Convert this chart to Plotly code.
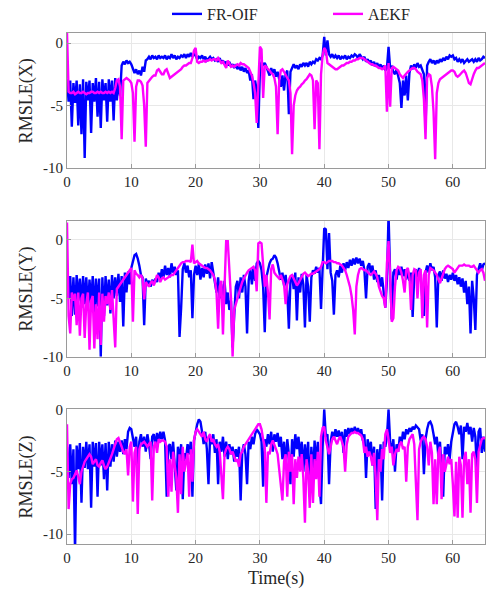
import plotly.graph_objects as go

# Sampling interval of the logged error series (seconds)
SAMPLE_STEP = 0.25

# RMSLE of the X component
fr_oif_x = [
    -2.9, -4.7, -3.0, -6.7, -3.2, -4.8, -3.0, -6.6, -3.3, -7.3, -2.9, -9.2, -3.1, -4.6, -3.0, -7.2, -3.2, -4.7, -2.8, -5.9,
    -3.1, -6.8, -2.9, -4.6, -3.2, -6.3, -2.9, -4.7, -3.0, -6.2, -2.8, -4.6, -3.0, -4.2, -1.8, -1.5, -1.7, -1.4, -1.6, -1.5,
    -1.7, -2.0, -2.4, -2.1, -2.5, -2.2, -2.6, -1.9, -2.3, -1.4, -1.3, -1.1, -1.3, -1.0, -1.2, -1.1, -1.3, -1.0, -1.2, -1.1,
    -1.2, -1.0, -1.3, -1.1, -1.2, -0.9, -1.2, -1.0, -1.3, -1.1, -1.2, -1.0, -1.1, -0.9, -1.2, -0.9, -1.1, -0.8, -1.1, -0.9,
    -1.0, -1.3, -1.1, -1.2, -1.0, -1.3, -1.1, -1.4, -1.2, -1.1, -1.3, -1.2, -1.4, -1.3, -1.5, -1.2, -1.6, -1.4, -1.7, -1.5,
    -1.8, -1.5, -1.9, -1.7, -2.0, -1.7, -2.1, -1.8, -2.2, -1.9, -2.3, -2.0, -2.4, -2.2, -3.0, -2.5, -4.5, -3.0, -3.8, -6.8,
    -2.2, -1.5, -1.8, -1.6, -1.9, -2.2, -2.6, -2.0, -2.4, -2.1, -2.7, -2.3, -2.8, -3.5, -2.6, -3.8, -2.5, -2.2, -5.7, -2.3,
    -2.0, -1.7, -2.0, -1.8, -2.1, -1.7, -1.9, -1.6, -1.8, -1.6, -1.9, -1.5, -1.7, -1.5, -1.6, -1.3, -1.4, -1.2, -1.3, -1.0,
    0.5, -1.0, 0.2, -0.9, -1.1, -0.9, -1.2, -1.0, -1.2, -1.0, -1.3, -1.1, -1.2, -1.0, -1.3, -1.1, -1.2, -1.0, -1.1, -0.9,
    -1.0, -1.2, -0.9, -1.1, -1.3, -1.1, -1.5, -1.3, -1.6, -1.4, -1.8, -1.5, -1.9, -1.6, -2.0, -1.7, -2.1, -1.8, -2.2, -2.0,
    -0.3, -2.0, -1.9, -2.3, -2.5, -2.1, -2.8, -3.2, -5.2, -3.0, -4.2, -2.6, -4.6, -2.4, -1.8, -2.1, -1.7, -2.0, -1.6, -1.9,
    -1.8, -2.1, -2.5, -6.8, -1.8, -1.5, -1.3, -1.6, -1.4, -1.7, -1.4, -1.6, -1.3, -1.5, -1.2, -1.4, -1.1, -1.3, -1.0, -1.1,
    -1.0, -1.3, -1.2, -1.5, -1.3, -1.5, -1.3, -1.6, -1.4, -1.3, -1.5, -1.4, -1.3, -1.5, -1.3, -1.5, -1.2, -1.4, -1.3, -1.1,
    -1.2,
]
aekf_x = [
    0.8, -3.9, -4.0, -4.0, -3.9, -4.1, -4.0, -3.9, -4.0, -4.0, -3.9, -4.0, -4.1, -4.0, -4.0, -3.9, -3.9, -4.0, -4.0, -3.9,
    -4.0, -3.9, -4.0, -4.0, -3.9, -4.0, -3.9, -4.0, -3.9, -4.0, -3.6, -3.0, -2.9, -3.5, -7.7, -3.0, -2.9, -2.8, -2.9, -3.0,
    -3.2, -4.0, -7.9, -3.5, -3.0, -3.0, -3.1, -3.4, -5.0, -8.3, -3.2, -3.0, -2.9, -2.7, -2.6, -2.6, -2.2, -2.1, -2.3, -2.5,
    -2.5, -2.2, -2.1, -2.4, -2.8, -2.7, -2.6, -2.5, -2.4, -2.3, -2.2, -2.1, -1.9, -1.8, -1.8, -1.7, -1.6, -1.6, -1.2, -0.6,
    -0.4, -1.5, -1.6, -1.5, -1.5, -1.4, -1.5, -1.4, -1.4, -1.3, -1.4, -1.3, -1.3, -1.4, -1.2, -1.4, -1.6, -1.5, -1.7, -2.0,
    -1.4, -1.7, -1.9, -1.8, -1.9, -1.8, -1.7, -1.8, -1.6, -1.7, -1.7, -1.8, -1.9, -2.0, -2.3, -2.6, -3.2, -4.0, -6.4, -3.0,
    -0.3, -0.5, -4.4, -1.8, -1.9, -2.1, -2.2, -2.4, -2.5, -2.8, -3.5, -7.3, -3.0, -2.2, -2.1, -2.3, -2.6, -2.8, -3.0, -4.0,
    -8.9, -5.0, -4.2, -3.8, -3.6, -3.5, -3.3, -3.2, -3.0, -2.9, -2.7, -2.5, -2.6, -3.0, -6.9, -3.0, -3.2, -8.5, -2.5, -1.0,
    -0.4, -0.6, -1.6, -1.7, -1.8, -1.9, -2.0, -2.1, -2.1, -2.0, -1.9, -1.8, -1.8, -1.7, -1.6, -1.6, -1.5, -1.5, -1.4, -1.4,
    -1.3, -1.3, -1.2, -1.2, -1.2, -1.3, -1.4, -1.5, -1.6, -1.7, -1.7, -1.8, -1.8, -1.9, -2.0, -2.0, -2.1, -2.0, -1.8, -5.5,
    -1.6, -5.1, -2.0, -1.9, -2.0, -2.1, -2.2, -2.5, -2.7, -2.8, -2.6, -2.4, -2.3, -2.2, -2.1, -2.0, -2.0, -2.1, -2.3, -2.4,
    -2.5, -3.0, -4.5, -7.7, -2.8, -2.5, -2.6, -3.5, -5.5, -9.3, -4.0, -3.2, -2.9, -2.8, -2.7, -2.6, -2.5, -2.4, -2.3, -2.2,
    -2.2, -2.3, -2.6, -2.7, -2.6, -2.4, -2.3, -2.2, -2.4, -2.8, -3.2, -3.3, -2.8, -2.5, -2.2, -2.0, -2.0, -1.9, -1.8, -1.7,
    -1.6,
]

# RMSLE of the Y component
fr_oif_y = [
    -3.0, -5.0, -3.1, -6.5, -3.2, -6.4, -3.0, -5.2, -3.3, -5.8, -3.1, -5.5, -3.2, -6.0, -3.4, -5.4, -3.1, -6.3, -3.3, -5.7,
    -3.3, -10.0, -3.2, -6.5, -3.1, -5.6, -3.4, -6.3, -3.0, -5.0, -3.2, -4.8, -2.9, -5.3, -3.1, -7.4, -2.8, -4.5, -2.7, -3.8,
    -2.4, -1.8, -1.3, -1.2, -1.6, -2.2, -3.0, -3.2, -7.3, -3.3, -3.8, -3.5, -4.0, -3.4, -3.8, -3.3, -3.6, -2.8, -3.4, -2.5,
    -3.2, -2.2, -3.0, -2.4, -3.2, -2.0, -2.8, -2.3, -3.0, -2.6, -8.3, -5.8, -2.5, -2.0, -2.8, -2.2, -3.2, -2.6, -6.7, -3.0,
    -2.2, -3.0, -2.0, -3.4, -2.4, -3.2, -2.1, -2.9, -2.0, -3.3, -1.9, -2.8, -3.5, -4.5, -3.2, -5.0, -3.8, -5.2, -3.5, -5.5,
    -4.5, -6.0, -5.2, -9.2, -6.5, -4.0, -3.5, -5.0, -3.2, -4.5, -3.0, -4.0, -8.0, -3.5, -2.5, -3.8, -2.3, -3.5, -2.0, -1.8,
    -2.0, -2.6, -4.0, -7.9, -3.2, -2.5, -2.0, -1.7, -1.6, -1.3, -1.5, -2.0, -2.6, -3.4, -2.8, -3.9, -3.0, -4.4, -7.6, -3.5,
    -3.0, -4.2, -2.8, -6.9, -3.2, -4.5, -2.9, -3.8, -7.5, -3.0, -4.0, -7.0, -3.2, -2.6, -2.9, -2.3, -2.8, -2.4, -5.9, -2.6,
    1.0, 0.9, -2.5, 0.6, -2.8, -3.5, -6.4, -3.0, -2.6, -3.2, -2.2, -2.8, -2.0, -2.6, -1.9, -2.4, -1.7, -2.2, -1.6, -2.1,
    -1.5, -2.0, -1.6, -2.2, -1.8, -2.6, -5.0, -2.3, -2.0, -2.8, -2.2, -3.4, -2.6, -3.6, -3.0, -4.0, -3.2, -4.5, -5.8, -3.5,
    2.2, -3.0, -6.8, -2.8, -2.5, -3.4, -2.4, -3.0, -2.3, -3.1, -2.5, -3.4, -2.6, -3.5, -2.8, -6.6, -3.0, -2.5, -3.2, -2.4,
    -3.0, -5.0, -6.5, -2.8, -2.2, -2.8, -2.0, -2.6, -2.3, -3.2, -7.5, -3.0, -2.7, -3.5, -2.6, -3.3, -2.9, -3.6, -3.0, -3.4,
    -2.8, -3.5, -3.0, -3.8, -3.2, -4.0, -3.3, -4.5, -3.5, -5.5, -4.0, -8.0, -3.5, -5.0, -7.7, -3.0, -2.5, -2.0, -2.6, -2.1,
    -2.0,
]
aekf_y = [
    1.5, -6.5, -8.0, -4.5, -5.2, -4.6, -7.3, -4.5, -8.2, -5.0, -4.6, -8.4, -5.5, -4.5, -9.4, -5.2, -4.8, -9.3, -5.5, -8.5,
    -4.5, -9.0, -4.6, -7.0, -4.8, -5.5, -4.5, -6.0, -4.3, -6.5, -9.2, -4.2, -4.0, -3.8, -3.6, -3.4, -3.2, -3.0, -2.8, -2.6,
    -2.4, -7.0, -2.6, -2.9, -3.0, -3.2, -3.0, -3.3, -5.1, -3.6, -3.8, -4.0, -3.7, -3.5, -3.9, -3.4, -3.0, -3.2, -3.6, -3.3,
    -3.2, -3.4, -3.3, -3.2, -3.1, -3.0, -3.0, -2.8, -2.6, -2.3, -2.1, -2.0, -1.9, -1.9, -1.8, -1.8, -1.8, -1.9, -0.4, -2.0,
    -1.9, -1.8, -2.0, -2.1, -2.2, -2.3, -2.4, -2.4, -2.5, -2.6, -2.8, -3.0, -3.4, -4.5, -7.6, -4.0, -3.5, -8.1, -4.0, -0.1,
    -0.1, -2.5, -5.0, -10.0, -6.0, -5.5, -5.0, -4.5, -4.0, -3.6, -3.3, -3.0, -2.8, -2.6, -2.5, -2.4, -2.3, -2.6, -4.4, -0.3,
    -0.2, -0.3, -2.0, -4.0, -3.0, -4.5, -6.8, -2.5, -2.1, -2.8, -3.0, -3.2, -3.3, -3.0, -3.4, -3.8, -5.5, -3.8, -3.4, -3.1,
    -3.0, -3.3, -3.6, -3.9, -3.7, -3.4, -3.1, -2.9, -2.8, -3.0, -3.1, -3.0, -2.9, -2.9, -2.8, -2.7, -2.6, -2.5, -2.3, -1.9,
    -1.9, -2.0, -1.9, -1.8, -1.8, -1.8, -1.9, -1.9, -2.0, -2.0, -2.1, -2.2, -2.4, -2.6, -3.0, -3.5, -4.0, -4.8, -6.0, -8.1,
    -4.0, -3.0, -2.5, -2.4, -2.5, -2.6, -2.6, -2.8, -2.9, -3.0, -2.8, -2.7, -2.9, -3.2, -4.0, -4.5, -4.8, -5.0, -5.8, -2.0,
    -0.1, -3.0, -7.0, -6.7, -4.0, -2.6, -2.3, -2.4, -2.8, -3.5, -4.5, -2.6, -2.4, -3.2, -6.0, -3.0, -2.5, -2.6, -5.0, -2.8,
    -2.5, -6.7, -3.0, -2.6, -7.5, -3.0, -2.4, -2.5, -2.6, -2.8, -3.0, -3.4, -3.7, -3.3, -2.8, -2.5, -2.3, -2.2, -2.3, -2.4,
    -2.5, -2.8, -2.6, -2.3, -2.2, -2.2, -2.2, -2.1, -2.2, -2.2, -2.2, -2.3, -2.3, -2.2, -2.4, -2.6, -2.8, -2.6, -2.5, -2.8,
    -3.5,
]

# RMSLE of the Z component
fr_oif_z = [
    -3.0, -5.5, -2.8, -6.0, -3.2, -11.5, -2.9, -4.8, -2.7, -7.5, -3.0, -4.7, -2.6, -4.8, -2.8, -7.9, -2.6, -4.6, -2.7, -7.0,
    -2.6, -4.5, -2.8, -5.6, -2.7, -6.5, -2.6, -4.6, -2.8, -4.2, -2.5, -3.8, -2.6, -3.4, -2.5, -3.6, -2.4, -3.2, -1.8, -1.5,
    -1.6, -2.4, -3.0, -2.2, -5.0, -2.6, -2.0, -3.0, -2.2, -3.4, -2.0, -2.8, -4.0, -2.2, -2.0, -3.0, -1.9, -2.6, -1.8, -2.4,
    -1.8, -2.5, -7.0, -3.0, -2.8, -4.0, -2.6, -4.5, -6.5, -3.0, -4.2, -2.8, -7.2, -3.5, -4.0, -2.8, -3.6, -2.6, -7.0, -2.5,
    -1.8, -1.2, -0.8, -1.0, -1.8, -2.8, -1.8, -3.2, -6.0, -2.2, -2.8, -2.0, -3.5, -2.4, -6.0, -2.6, -3.4, -2.2, -3.8, -2.6,
    -4.0, -2.8, -3.6, -3.0, -4.2, -3.2, -3.8, -3.0, -7.3, -3.4, -2.8, -3.6, -6.0, -2.6, -3.2, -2.2, -2.8, -2.0, -1.6, -1.8,
    -2.0, -2.6, -6.2, -2.4, -3.0, -2.0, -2.8, -1.8, -3.4, -2.0, -2.6, -1.9, -3.0, -2.2, -4.0, -2.6, -4.8, -2.4, -3.6, -6.0,
    -2.4, -3.8, -2.0, -3.2, -2.2, -4.0, -2.6, -5.0, -2.8, -4.5, -2.6, -7.0, -3.0, -5.5, -2.5, -4.5, -2.6, -6.0, -7.6, -3.0,
    0.0, -2.2, -2.0, -6.0, -2.6, -1.8, -2.4, -1.6, -2.2, -1.7, -2.4, -1.8, -3.5, -1.6, -2.2, -1.5, -2.0, -1.5, -1.9, -1.4,
    -1.9, -1.5, -2.0, -1.6, -2.5, -2.0, -5.5, -2.4, -3.5, -2.6, -4.5, -3.0, -8.0, -3.2, -5.0, -2.8, -7.3, -2.6, -3.0, -2.2,
    0.0, -2.6, -3.5, -2.4, -5.0, -2.8, -3.4, -2.2, -2.8, -1.8, -2.4, -1.6, -2.0, -1.5, -1.8, -1.4, -1.6, -1.3, -1.5, -1.6,
    -2.5, -2.0, -5.2, -2.4, -1.6, -1.1, -1.0, -1.3, -2.0, -2.8, -2.2, -3.8, -2.6, -4.5, -7.0, -3.0, -3.6, -2.8, -4.0, -2.6,
    -2.0, -1.2, -1.0, -1.4, -2.0, -1.3, -4.0, -1.4, -1.8, -1.1, -2.0, -1.4, -2.6, -1.5, -2.2, -5.0, -1.8, -1.5, -3.5, -2.2,
    -3.4,
]
aekf_z = [
    -1.2, -8.0, -6.0, -5.6, -5.5, -5.2, -4.9, -5.4, -6.0, -5.0, -4.5, -4.2, -4.0, -3.8, -3.6, -3.8, -4.4, -4.2, -4.0, -4.5,
    -4.6, -4.3, -4.1, -4.5, -4.8, -4.6, -4.3, -4.0, -3.6, -3.2, -2.8, -2.4, -2.3, -2.6, -3.0, -3.4, -3.6, -3.2, -5.3, -3.0,
    -2.6, -7.4, -3.5, -3.0, -8.4, -3.2, -2.8, -2.7, -2.6, -2.8, -3.0, -2.8, -2.6, -7.3, -3.0, -2.6, -3.5, -2.4, -2.6, -2.5,
    -2.5, -2.6, -3.0, -7.0, -4.0, -6.6, -3.4, -4.5, -5.5, -8.3, -3.6, -6.8, -3.0, -5.0, -4.2, -3.5, -7.0, -3.2, -5.8, -2.5,
    -1.8, -1.6, -1.8, -2.0, -2.2, -1.8, -2.4, -2.6, -2.2, -2.0, -2.6, -2.4, -2.8, -3.0, -2.8, -3.4, -5.0, -7.2, -3.6, -3.2,
    -3.0, -3.2, -3.6, -3.4, -3.8, -4.2, -4.0, -4.6, -3.6, -3.4, -3.0, -2.8, -2.6, -2.4, -2.2, -2.0, -1.8, -1.6, -1.4, -1.2,
    -1.2, -1.6, -2.4, -3.0, -7.5, -3.4, -3.6, -2.8, -2.5, -2.8, -3.2, -3.6, -5.0, -6.5, -7.3, -4.2, -3.6, -7.0, -3.4, -5.0,
    -3.6, -7.6, -4.0, -5.5, -3.8, -5.0, -3.6, -5.5, -9.1, -4.0, -5.0, -7.9, -3.6, -7.5, -4.0, -5.6, -3.4, -7.0, -2.2, -1.5,
    -1.4, -2.5, -3.2, -3.6, -3.0, -2.4, -2.2, -2.5, -2.8, -2.4, -2.2, -2.6, -3.0, -5.0, -2.8, -2.2, -2.0, -1.9, -1.9, -1.8,
    -1.9, -1.9, -2.0, -2.1, -2.4, -3.5, -3.0, -3.8, -3.4, -3.8, -4.5, -3.5, -5.5, -8.9, -4.0, -5.0, -3.2, -4.0, -2.0, -1.6,
    -2.4, -3.5, -3.0, -4.5, -3.6, -3.2, -3.4, -2.8, -2.6, -3.2, -3.0, -5.8, -3.0, -2.4, -2.2, -2.0, -2.8, -5.5, -8.9, -3.2,
    -2.6, -2.3, -2.2, -2.4, -3.0, -4.5, -2.6, -3.5, -7.6, -4.0, -7.6, -3.5, -3.0, -7.2, -3.6, -5.0, -4.5, -3.8, -4.4, -4.0,
    -6.0, -8.6, -4.2, -8.7, -3.8, -4.5, -8.7, -4.0, -3.4, -6.0, -4.0, -8.3, -3.6, -3.4, -4.0, -7.5, -3.4, -2.8, -2.4, -2.3,
    -2.3,
]

panels = [
    ("RMSLE(X)", fr_oif_x, aekf_x, [-10, 0.8]),
    ("RMSLE(Y)", fr_oif_y, aekf_y, [-10, 1.65]),
    ("RMSLE(Z)", fr_oif_z, aekf_z, [-10.8, 0]),
]
y_ticks = [-10, -5, 0]
y_ticktext = ["-10", "-5", "0"]
x_ticks = [0, 10, 20, 30, 40, 50, 60]

domains = [[0.7358, 1.0], [0.3665, 0.6327], [0.0, 0.2636]]

FONT = "Liberation Serif, Times New Roman, serif"
TEXT_COLOR = "#262626"
AXIS_COLOR = "#9a9a9a"
GRID_COLOR = "#e8e8e8"
BLUE = "#0000ff"
MAGENTA = "#ff00ff"
LINE_W = 2.4

fig = go.Figure()
annotations = []
for i, (label, fr, ae, yr) in enumerate(panels):
    n = i + 1
    xa = "x" if n == 1 else f"x{n}"
    ya = "y" if n == 1 else f"y{n}"
    t_fr = [k * SAMPLE_STEP for k in range(len(fr))]
    t_ae = [k * SAMPLE_STEP for k in range(len(ae))]
    fig.add_trace(go.Scatter(x=t_fr, y=fr, mode="lines", name="FR-OIF",
                             line=dict(color=BLUE, width=LINE_W), xaxis=xa, yaxis=ya,
                             showlegend=(n == 1), legendgroup="fr"))
    fig.add_trace(go.Scatter(x=t_ae, y=ae, mode="lines", name="AEKF",
                             line=dict(color=MAGENTA, width=LINE_W), xaxis=xa, yaxis=ya,
                             showlegend=(n == 1), legendgroup="ae"))

    axis_common = dict(showline=True, mirror=True, linecolor=AXIS_COLOR, linewidth=1,
                       showgrid=True, gridcolor=GRID_COLOR, gridwidth=1, zeroline=False,
                       ticks="inside", ticklen=4, tickcolor=AXIS_COLOR,
                       tickfont=dict(family=FONT, size=15, color=TEXT_COLOR))
    xkey = "xaxis" if n == 1 else f"xaxis{n}"
    ykey = "yaxis" if n == 1 else f"yaxis{n}"
    fig.update_layout(**{
        xkey: dict(axis_common, domain=[0, 1], anchor=ya, range=[0, 65],
                   tickvals=x_ticks, ticktext=[str(v) for v in x_ticks]),
        ykey: dict(axis_common, domain=domains[i], anchor=xa, range=yr,
                   tickvals=y_ticks, ticktext=y_ticktext),
    })
    annotations.append(dict(text=label, xref="paper", yref="paper",
                            x=-0.096, y=(domains[i][0] + domains[i][1]) / 2,
                            xanchor="center", yanchor="middle", textangle=-90,
                            showarrow=False,
                            font=dict(family=FONT, size=18, color=TEXT_COLOR)))

annotations.append(dict(text="Time(s)", xref="paper", yref="paper", x=0.5, y=-0.068,
                        xanchor="center", yanchor="middle", showarrow=False,
                        font=dict(family=FONT, size=18, color=TEXT_COLOR)))

fig.update_layout(
    width=486, height=594,
    margin=dict(l=67, r=1, t=33, b=50, autoexpand=False),
    paper_bgcolor="white", plot_bgcolor="white",
    annotations=annotations,
    legend=dict(orientation="h", xref="container", yref="container",
                x=167 / 486, y=1 - 14 / 594, xanchor="left", yanchor="middle",
                font=dict(family=FONT, size=16, color=TEXT_COLOR),
                itemwidth=30, entrywidth=116, entrywidthmode="pixels",
                bgcolor="rgba(0,0,0,0)"),
)

fig.write_html("out.html")
